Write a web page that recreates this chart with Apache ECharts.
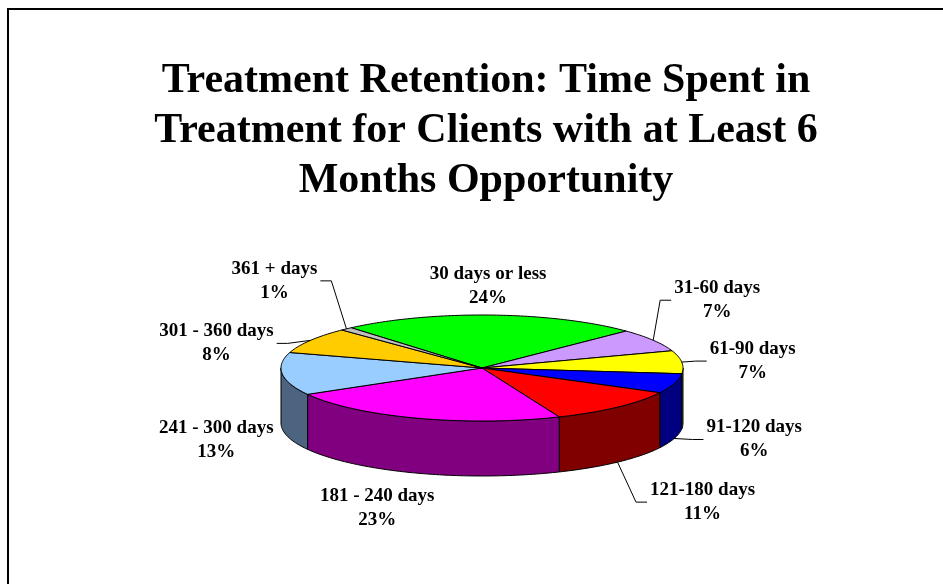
<!DOCTYPE html>
<html>
<head>
<meta charset="utf-8">
<title>Treatment Retention</title>
<script src="https://cdn.jsdelivr.net/npm/echarts@6/dist/echarts.min.js"></script>
<style>
  html, body { margin: 0; padding: 0; background: #fff; }
  #main { width: 943px; height: 584px; }
</style>
</head>
<body>
<div id="main"></div>
<script>
// slices, clockwise from the top
const categories = ['30 days or less', '31-60 days', '61-90 days', '91-120 days', '121-180 days',
  '181 - 240 days', '241 - 300 days', '301 - 360 days', '361 + days']
const percents = [24, 7, 7, 6, 11, 23, 13, 8, 1]

const topColors = ['#00ff00', '#cc99ff', '#ffff00', '#0000ff', '#ff0000', '#ff00ff', '#99ccff', '#ffcc00', '#c0c0c0']
const sideColors = ['#008000', '#664d80', '#808000', '#000080', '#800000', '#800080', '#4d6480', '#806600', '#606060']

// label block centre, relative to the slice's anchor point on the rim
const labelOffsets = [[-3, -29], [64, -40], [71, -1], [80, 1], [85, 40], [-40, 35], [-66, 11], [-94, 3], [-72, -48]]

// 3d pie layout (pixels)
const pie = { cx: 482, cy: 368, rx: 201, ry: 53, depth: 55, startAngle: 130.6 }
const labelFont = 'bold 19px "Liberation Serif"'
const labelLineHeight = 24

const total = percents.reduce((a, b) => a + b, 0)
const startAngles = []
let acc = 0
percents.forEach(v => {
  startAngles.push(pie.startAngle - (acc / total) * 360)
  acc += v
})

const measureCtx = document.createElement('canvas').getContext('2d')
measureCtx.font = labelFont

function rim(deg, drop) {
  const a = deg * Math.PI / 180
  return [pie.cx + pie.rx * Math.cos(a), pie.cy - pie.ry * Math.sin(a) + (drop || 0)]
}

function arc(from, to, drop) {
  // from > to, going clockwise
  const pts = []
  const n = Math.max(2, Math.ceil((from - to) / 1))
  for (let k = 0; k <= n; k++) {
    pts.push(rim(from - (from - to) * k / n, drop))
  }
  return pts
}

function renderSlice(params, api) {
  const i = params.dataIndex
  const v = api.value(0)
  const a1 = startAngles[i]
  const a2 = a1 - (v / total) * 360
  const children = []

  // side wall for the part facing the viewer (-180..0)
  const s1 = Math.min(a1, 0)
  const s2 = Math.max(a2, -180)
  if (s1 > s2) {
    const top = arc(s1, s2, 0)
    const bottom = arc(s1, s2, pie.depth).reverse()
    children.push({
      type: 'polygon',
      shape: { points: top.concat(bottom) },
      style: { fill: sideColors[i], stroke: '#000', lineWidth: 1 }
    })
  }

  // top face
  children.push({
    type: 'polygon',
    shape: { points: [[pie.cx, pie.cy]].concat(arc(a1, a2, 0)) },
    style: { fill: topColors[i], stroke: '#000', lineWidth: 1 }
  })

  // label
  const mid = (a1 + a2) / 2
  const front = Math.sin(mid * Math.PI / 180) < 0
  const anchor = rim(mid, front ? pie.depth : 0)
  const off = labelOffsets[i]
  const lx = anchor[0] + off[0]
  const ly = anchor[1] + off[1]
  const lines = [categories[i], v + '%']
  const halfW = Math.max(...lines.map(t => measureCtx.measureText(t).width)) / 2
  const halfH = labelLineHeight

  children.push({
    type: 'text',
    style: {
      text: lines.join('\n'),
      x: lx,
      y: ly,
      align: 'center',
      verticalAlign: 'middle',
      font: labelFont,
      lineHeight: labelLineHeight,
      fill: '#000'
    }
  })

  // leader line when the label sits away from its slice
  const gapX = Math.max(0, Math.abs(anchor[0] - lx) - halfW)
  const gapY = Math.max(0, Math.abs(anchor[1] - ly) - halfH)
  if (Math.max(gapX, gapY) > 15) {
    const side = anchor[0] < lx ? -1 : 1
    const edge = lx + side * halfW
    children.push({
      type: 'polyline',
      shape: { points: [anchor, [edge + side * 14, ly], [edge + side * 3, ly]] },
      style: { stroke: '#000', lineWidth: 1, fill: null }
    })
  }

  return { type: 'group', children: children }
}

var myChart = echarts.init(document.getElementById('main'))
var option = {
  backgroundColor: '#fff',
  animation: false,
  title: {
    text: 'Treatment Retention: Time Spent in\nTreatment for Clients with at Least 6\nMonths Opportunity',
    left: 481,
    top: 51,
    textAlign: 'center',
    textStyle: {
      fontFamily: 'Liberation Serif',
      fontWeight: 'bold',
      fontSize: 42,
      lineHeight: 50,
      color: '#000'
    }
  },
  graphic: [
    {
      type: 'rect',
      shape: { x: 8, y: 9, width: 1000, height: 1000 },
      style: { fill: 'none', stroke: '#000', lineWidth: 2 },
      silent: true
    }
  ],
  series: [
    {
      type: 'custom',
      coordinateSystem: 'none',
      renderItem: renderSlice,
      data: percents.map((v, i) => ({ name: categories[i], value: [v] }))
    }
  ]
}
myChart.setOption(option)
</script>
</body>
</html>
